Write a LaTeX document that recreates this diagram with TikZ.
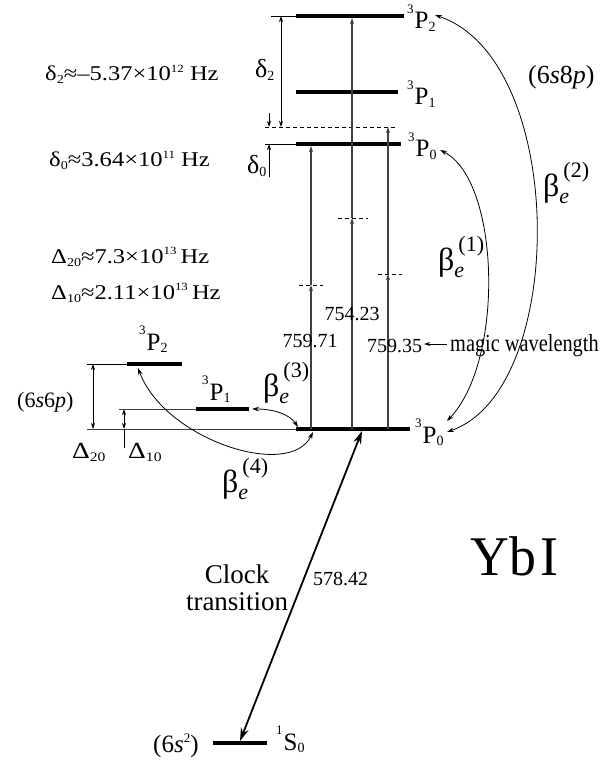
\documentclass[tikz,border=0pt]{standalone}
\usepackage{graphicx}
\usepackage{fontspec}
\setmainfont{Liberation Serif}
\usetikzlibrary{arrows.meta}
\newcommand\lsub[1]{\raisebox{-3pt}{\fontsize{12}{12}\selectfont #1}}
\newcommand\lsup[1]{\raisebox{8.5pt}{\fontsize{11}{11}\selectfont #1}}
\newcommand\hs[2]{\scalebox{#1}[1]{#2}}
\newcommand\term[3]{\raisebox{15.5pt}{\fontsize{13}{13}\selectfont #1}\kern1pt#2\raisebox{-2.5pt}{\fontsize{14}{14}\selectfont #3}}
\newcommand\betalab[1]{{\fontsize{32}{32}\selectfont β}\rlap{\raisebox{-7pt}{\fontsize{22}{22}\selectfont\itshape e}}\kern4pt\raisebox{19pt}{\fontsize{22}{22}\selectfont(#1)}}
\begin{document}
\begin{tikzpicture}[x=1pt,y=-1pt,
  lvl/.style={line width=4.5pt},
  thinl/.style={line width=0.8pt},
  trans/.style={line width=1.1pt,draw=black!75},
  dsh/.style={line width=0.8pt,dash pattern=on 4pt off 3pt},
  tip/.style={-{Stealth[length=6pt,width=4pt]}},
  dtip/.style={{Stealth[length=6pt,width=4pt]}-{Stealth[length=6pt,width=4pt]}},
  btip/.style={{Stealth[length=7pt,width=4.5pt]}-{Stealth[length=7pt,width=4.5pt]}},
  ctip/.style={{Stealth[length=13pt,width=8pt]}-{Stealth[length=13pt,width=8pt]}},
  txt/.style={font=\fontsize{20}{22}\selectfont,inner sep=0pt},
  lab/.style={font=\fontsize{25}{25}\selectfont,inner sep=0pt,anchor=base west},
  blab/.style={inner sep=0pt,anchor=base west},
  val/.style={font=\fontsize{21}{22}\selectfont,inner sep=0pt,anchor=base west},
]
\useasboundingbox (0,0) rectangle (615,762);

% ---------- upper (6s8p) levels ----------
\coordinate (uP2a) at (296,16);  \coordinate (uP2b) at (404,16);
\coordinate (uP1a) at (296,92);  \coordinate (uP1b) at (398,92);
\coordinate (uP0a) at (296,144); \coordinate (uP0b) at (401,144);
\draw[lvl] (uP2a) -- (uP2b);
\draw[lvl] (uP1a) -- (uP1b);
\draw[lvl] (uP0a) -- (uP0b);
\draw[thinl] (271,16) -- (uP2a);
\draw[thinl] (265,144) -- (uP0a);
\draw[dsh] (265,127) -- (398,127);
\node[lab] (luP2) at (407,29) {\term{3}{P}{2}};
\node[lab] (luP1) at (407,105) {\term{3}{P}{1}};
\node[lab] (luP0) at (408,157) {\term{3}{P}{0}};

% ---------- lower levels ----------
\coordinate (P0a) at (296,429); \coordinate (P0b) at (410,429);
\draw[lvl] (P0a) -- (P0b);
\draw[thinl,draw=black!75] (87,429) -- (P0a);
\node[lab] (lP0) at (415,443) {\term{3}{P}{0}};

\coordinate (lP2a) at (127,364); \coordinate (lP2b) at (182,364);
\draw[lvl] (lP2a) -- (lP2b);
\draw[thinl] (87,364) -- (lP2a);
\node[lab] (llP2) at (139,350) {\term{3}{P}{2}};

\coordinate (lP1a) at (196,409); \coordinate (lP1b) at (249,409);
\draw[lvl] (lP1a) -- (lP1b);
\draw[thinl,draw=black!75] (119,409) -- (lP1a);
\node[lab] (llP1) at (202,400) {\term{3}{P}{1}};

\coordinate (S0a) at (213,743); \coordinate (S0b) at (267,743);
\draw[lvl] (S0a) -- (S0b);
\node[lab] (lS0) at (276,750) {\term{1}{S}{0}};
\node[txt,anchor=base west,font=\fontsize{25}{25}\selectfont] (cfg2) at (153,752) {(6\textit{s}\raisebox{10pt}{\fontsize{13}{13}\selectfont 2})};

% ---------- lattice transitions ----------
\coordinate (A0) at (311,429); \coordinate (Am) at (311,285); \coordinate (A1) at (311,146);
\coordinate (B0) at (352,429); \coordinate (Bm) at (352,218); \coordinate (B1) at (352,18);
\coordinate (C0) at (388,429); \coordinate (Cm) at (388,274); \coordinate (C1) at (388,127);
\draw[trans,tip] (A0) -- (Am); \draw[trans,tip] (Am) -- (A1);
\draw[trans,tip] (B0) -- (Bm); \draw[trans,tip] (Bm) -- (B1);
\draw[trans,tip] (C0) -- (Cm); \draw[trans,tip] (Cm) -- (C1);
\draw[dsh] (299,285) -- (323,285);
\draw[dsh] (338,218) -- (368,218);
\draw[dsh] (378,274) -- (402,274);
\node[txt,anchor=base] (w1) at (310,347) {759.71};
\node[txt,anchor=base] (w2) at (352,320) {754.23};
\node[txt,anchor=base west] (w3) at (367,352) {759.35};
\node[inner sep=0pt,anchor=base west,font=\fontsize{24.5}{25}\selectfont] (magic) at (450,351) {\hs{0.83}{magic wavelength}};
\coordinate (mgA) at (447,344); \coordinate (mgB) at (424,344);
\draw[thinl,tip] (mgA) -- (mgB);

% ---------- fine-structure intervals ----------
\coordinate (d2a) at (281,16); \coordinate (d2b) at (281,127);
\draw[thinl,dtip] (d2a) -- (d2b);
\coordinate (d0a) at (269,113); \coordinate (d0b) at (269,127);
\draw[thinl,tip] (d0a) -- (d0b);
\coordinate (d0c) at (269,177); \coordinate (d0d) at (269,144);
\draw[thinl,tip] (d0c) -- (d0d);
\node[inner sep=0pt,anchor=base west,font=\fontsize{26}{26}\selectfont] (ld2) at (255,78) {δ\raisebox{-3pt}{\fontsize{14}{14}\selectfont 2}};
\node[inner sep=0pt,anchor=base west,font=\fontsize{26}{26}\selectfont] (ld0) at (247,173) {δ\raisebox{-3pt}{\fontsize{14}{14}\selectfont 0}};

\coordinate (D2a) at (93,364); \coordinate (D2b) at (93,429);
\draw[thinl,dtip] (D2a) -- (D2b);
\coordinate (D1a) at (124,409); \coordinate (D1b) at (124,429); \coordinate (D1c) at (124,448);
\draw[thinl,dtip] (D1a) -- (D1b);
\draw[thinl] (D1b) -- (D1c);
\node[inner sep=0pt,anchor=base west,font=\fontsize{23}{23}\selectfont] (lD20) at (72,458) {\hs{1.2}{Δ\raisebox{-3pt}{\fontsize{13}{13}\selectfont 20}}};
\node[inner sep=0pt,anchor=base west,font=\fontsize{23}{23}\selectfont] (lD10) at (128,458) {\hs{1.2}{Δ\raisebox{-3pt}{\fontsize{13}{13}\selectfont 10}}};
\node[inner sep=0pt,anchor=base west,font=\fontsize{22}{22}\selectfont] (cfg6) at (17,407) {(6\textit{s}6\textit{p})};
\node[inner sep=0pt,anchor=base west,font=\fontsize{26}{26}\selectfont] (cfg8) at (528,84) {(6\textit{s}8\textit{p})};

% ---------- left values ----------
\node[val] (v1) at (45,81) {\hs{1.17}{δ\lsub{2}≈–5.37×10\lsup{12} Hz}};
\node[val] (v2) at (49,167) {\hs{1.17}{δ\lsub{0}≈3.64×10\lsup{11} Hz}};
\node[val] (v3) at (51,263) {\hs{1.17}{Δ\lsub{20}≈7.3×10\lsup{13}\,Hz}};
\node[val] (v4) at (51,299) {\hs{1.17}{Δ\lsub{10}≈2.11×10\lsup{13}\,Hz}};

% ---------- beta couplings ----------
\coordinate (b1s) at (440,150); \coordinate (b1e) at (447,421);
\draw[thinl,btip] (b1s) .. controls (500,180) and (505,360) .. (b1e);
\coordinate (b2s) at (435,15); \coordinate (b2e) at (447,432);
\draw[thinl,btip] (b2s) .. controls (568,60) and (568,390) .. (b2e);
\coordinate (b3s) at (252,409); \coordinate (b3e) at (298,427);
\draw[thinl,btip] (b3s) .. controls (275,409) and (290,415) .. (b3e);
\coordinate (b4s) at (138,368); \coordinate (b4e) at (313,432);
\draw[thinl,btip] (b4s) .. controls (165,440) and (290,480) .. (b4e);
\node[blab] (be1) at (438,270) {\betalab{1}};
\node[blab] (be2) at (543,196) {\betalab{2}};
\node[blab] (be3) at (263,396) {\betalab{3}};
\node[blab] (be4) at (222,492) {\betalab{4}};

% ---------- clock transition ----------
\coordinate (ck1) at (362,431); \coordinate (ck0) at (240,741);
\draw[line width=1.8pt,ctip] (ck0) -- (ck1);
\node[inner sep=0pt,align=center,font=\fontsize{27}{27}\selectfont,anchor=base] (clk) at (237,610) {Clock\\transition};
\node[txt,anchor=base west] (w4) at (313,585) {578.42};
\node[inner sep=0pt,anchor=base west,font=\fontsize{56}{56}\selectfont] (yb) at (470,575) {\hs{0.96}{Yb\kern5pt I}};
\end{tikzpicture}
\end{document}
